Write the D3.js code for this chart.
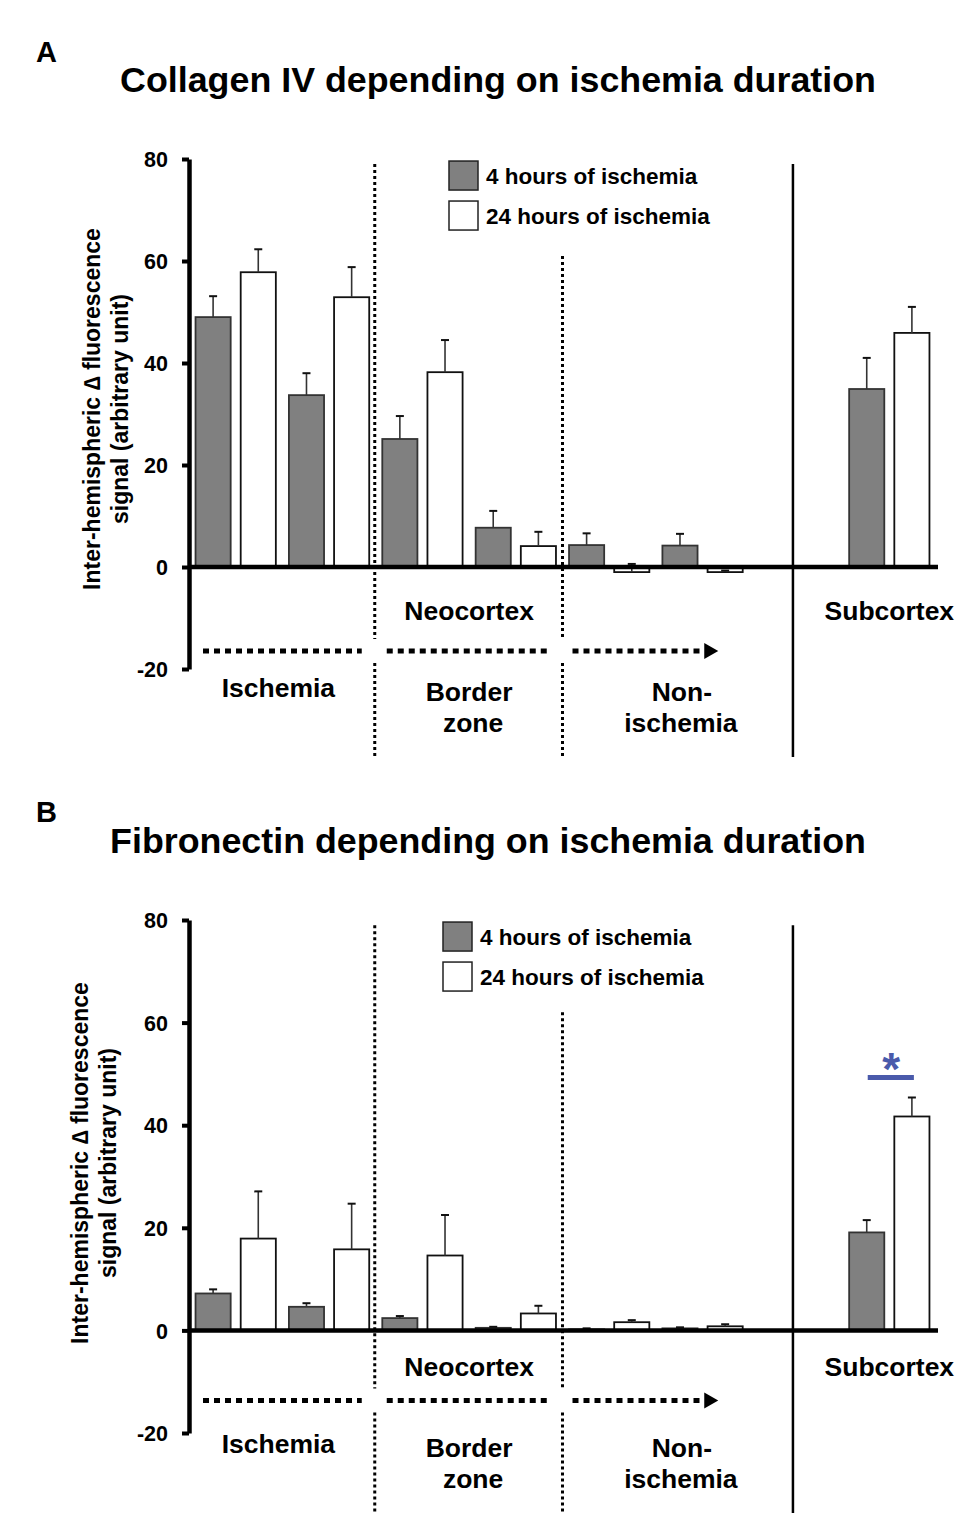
<!DOCTYPE html>
<html>
<head>
<meta charset="utf-8">
<script src="https://cdn.jsdelivr.net/npm/d3@7"></script>
<style>
  body { margin: 0; background: #fff; }
  svg text { font-family: "Liberation Sans", Arial, sans-serif; font-weight: bold; fill: #000; }
</style>
</head>
<body>
<svg id="figura" width="975" height="1533"></svg>
<script>
// categorias (8 posições: 6 do neocórtex, uma vazia, subcórtex)
const categorias = ['Ischemia 1', 'Ischemia 2', 'Border zone 1', 'Border zone 2',
                    'Non-ischemia 1', 'Non-ischemia 2', 'vazio', 'Subcortex']
const series = ['4 hours of ischemia', '24 hours of ischemia']
const ticksY = [-20, 0, 20, 40, 60, 80]

// A - Collagen IV (média e erro padrão)
const colageno4h    = [49.0, 33.7, 25.1, 7.7, 4.3, 4.2, null, 34.9]
const colageno4hErr = [4.1, 4.3, 4.5, 3.3, 2.3, 2.3, null, 6.1]
const colageno24h    = [57.8, 52.9, 38.2, 4.1, -1.0, -1.0, null, 45.9]
const colageno24hErr = [4.5, 5.9, 6.3, 2.8, 1.6, 0.3, null, 5.1]

// B - Fibronectin
const fibronectina4h    = [7.2, 4.6, 2.4, 0.5, 0.2, 0.4, null, 19.1]
const fibronectina4hErr = [0.8, 0.7, 0.4, 0.2, 0.2, 0.2, null, 2.4]
const fibronectina24h    = [17.9, 15.8, 14.6, 3.3, 1.6, 0.8, null, 41.7]
const fibronectina24hErr = [9.2, 8.9, 7.9, 1.5, 0.4, 0.4, null, 3.7]

onload = () => {
  new Painel({
    letra: 'A', titulo: 'Collagen IV depending on ischemia duration', tituloX: 498, tituloY: 92,
    letraY: 62, yTopo: 159, yBase: 669, rotuloY: 100, rotuloCentro: 409, legendaX: 449,
    v4: colageno4h, e4: colageno4hErr, v24: colageno24h, e24: colageno24hErr,
    linhaTopo2: 61, fundo: 757,
    off: {neo: 53, seta: 84, isq: 130, borda: 134, zona: 165}
  })
  new Painel({
    letra: 'B', titulo: 'Fibronectin depending on ischemia duration', tituloX: 488, tituloY: 853,
    letraY: 822, yTopo: 920, yBase: 1433, rotuloY: 88, rotuloCentro: 1163, legendaX: 443,
    v4: fibronectina4h, e4: fibronectina4hErr, v24: fibronectina24h, e24: fibronectina24hErr,
    linhaTopo2: 62, fundo: 1513,
    off: {neo: 46, seta: 70, isq: 123, borda: 127, zona: 158},
    signif: 'Subcortex'
  })
}

function Painel(p) {
  let svg = d3.select('#figura')
  let g = svg.append('g')

  this.fnX = d3.scaleBand().domain(categorias).range([189, 936]).paddingInner(0.14).paddingOuter(0.07)
  this.fnX1 = d3.scaleBand().domain(series).range([0, this.fnX.bandwidth()]).paddingInner(0.222)
  this.fnY = d3.scaleLinear().domain([-20, 80]).range([p.yBase, p.yTopo])
  let fnX = this.fnX, fnX1 = this.fnX1, fnY = this.fnY
  let passo = fnX.step()
  let limite = i => fnX(categorias[i]) - fnX.paddingInner() * passo / 2
  let y0 = fnY(0)

  // títulos
  svg.append('text').attr('x', 36).attr('y', p.letraY).style('font-size', '29px').text(p.letra)
  svg.append('text').attr('x', p.tituloX).attr('y', p.tituloY).attr('text-anchor', 'middle')
    .style('font-size', '35.8px').text(p.titulo)

  // rótulo do eixo Y
  let rot = svg.append('g').attr('transform', 'translate(' + p.rotuloY + ',' + p.rotuloCentro + ') rotate(-90)')
  rot.append('text').attr('text-anchor', 'middle').style('font-size', '23px').text('Inter-hemispheric \u2206 fluorescence')
  rot.append('text').attr('y', 28).attr('text-anchor', 'middle').style('font-size', '23px').text('signal (arbitrary unit)')

  // barras
  let dados = categorias.map((c, i) => ({
    cat: c,
    valores: [{s: series[0], v: p.v4[i], e: p.e4[i]}, {s: series[1], v: p.v24[i], e: p.e24[i]}]
  })).filter(d => d.valores[0].v !== null)

  let grupos = g.selectAll('.grupo').data(dados).enter().append('g')
    .attr('transform', d => 'translate(' + fnX(d.cat) + ',0)')

  grupos.selectAll('.barra').data(d => d.valores).enter().append('rect')
    .attr('x', d => fnX1(d.s))
    .attr('y', d => fnY(Math.max(d.v, 0)))
    .attr('width', fnX1.bandwidth())
    .attr('height', d => Math.abs(fnY(d.v) - y0))
    .attr('fill', d => d.s === series[0] ? '#808080' : '#fff')
    .attr('stroke', d => d.s === series[0] ? '#333' : '#111')
    .attr('stroke-width', 1.8)

  // barras de erro
  let erros = grupos.selectAll('.erro').data(d => d.valores).enter().append('g')
  erros.append('line')
    .attr('x1', d => fnX1(d.s) + fnX1.bandwidth() / 2).attr('x2', d => fnX1(d.s) + fnX1.bandwidth() / 2)
    .attr('y1', d => fnY(d.v)).attr('y2', d => fnY(d.v + d.e))
    .attr('stroke', '#333').attr('stroke-width', 1.6)
  erros.append('line')
    .attr('x1', d => fnX1(d.s) + fnX1.bandwidth() / 2 - 4).attr('x2', d => fnX1(d.s) + fnX1.bandwidth() / 2 + 4)
    .attr('y1', d => fnY(d.v + d.e)).attr('y2', d => fnY(d.v + d.e))
    .attr('stroke', '#111').attr('stroke-width', 2)

  // eixo Y
  let eixoY = d3.axisLeft(fnY).tickValues(ticksY).tickSize(7).tickSizeOuter(0).tickPadding(14)
    .tickFormat(d => String(d))
  let gy = g.append('g').attr('transform', 'translate(' + fnX.range()[0] + ',0)').call(eixoY)
  gy.select('.domain').attr('stroke', '#000').attr('stroke-width', 4.5)
  gy.selectAll('.tick line').attr('stroke', '#000').attr('stroke-width', 4)
  gy.selectAll('.tick text').style('font-size', '21.5px').attr('dy', '0.36em')

  // linha do zero
  g.append('line').attr('x1', fnX.range()[0]).attr('x2', fnX.range()[1] + 2)
    .attr('y1', y0).attr('y2', y0).attr('stroke', '#000').attr('stroke-width', 4.5)

  // divisões verticais
  let ySeta = y0 + p.off.seta
  let pontilhado = (x, yIni) => {
    [[yIni, ySeta - 12], [ySeta + 12, p.fundo]].forEach(s => {
      g.append('line').attr('x1', x).attr('x2', x).attr('y1', s[0]).attr('y2', s[1])
        .attr('stroke', '#000').attr('stroke-width', 3).attr('stroke-dasharray', '3,3')
    })
  }
  pontilhado(limite(2) - 1, fnY(79))
  pontilhado(limite(4), fnY(p.linhaTopo2))
  let xSolida = fnX('vazio') + fnX.bandwidth() / 2 - 3
  g.append('line').attr('x1', xSolida).attr('x2', xSolida).attr('y1', fnY(79)).attr('y2', p.fundo)
    .attr('stroke', '#000').attr('stroke-width', 2.5)

  // seta pontilhada
  let trechos = [[limite(0) + 14, limite(2) - 14], [limite(2) + 11, limite(4) - 14], [limite(4) + 10, limite(6) - 45]]
  trechos.forEach(t => {
    g.append('line').attr('x1', t[0]).attr('x2', t[1]).attr('y1', ySeta).attr('y2', ySeta)
      .attr('stroke', '#000').attr('stroke-width', 5).attr('stroke-dasharray', '6,5')
  })
  let ponta = limite(6) - 45
  g.append('path').attr('d', 'M' + ponta + ',' + (ySeta - 8) + 'L' + (ponta + 14) + ',' + ySeta + 'L' + ponta + ',' + (ySeta + 8) + 'Z')
    .attr('fill', '#000')

  // rótulos das regiões
  let texto = (x, y, t) => g.append('text').attr('x', x).attr('y', y).attr('text-anchor', 'middle')
    .style('font-size', '26.5px').text(t)
  texto(limite(3), y0 + p.off.neo, 'Neocortex')
  texto(fnX('Subcortex') + fnX.bandwidth() / 2, y0 + p.off.neo, 'Subcortex')
  texto(limite(1) - 4, y0 + p.off.isq, 'Ischemia')
  texto(limite(3), y0 + p.off.borda, 'Border')
  texto(limite(3) + 4, y0 + p.off.zona, 'zone')
  texto(limite(5) + 26, y0 + p.off.borda, 'Non-')
  texto(limite(5) + 25, y0 + p.off.zona, 'ischemia')

  // legenda
  let leg = g.selectAll('.legenda').data(series).enter().append('g')
    .attr('transform', (d, i) => 'translate(' + p.legendaX + ',' + (fnY(79.6) + i * 40) + ')')
  leg.append('rect').attr('width', 29).attr('height', 29)
    .attr('fill', d => d === series[0] ? '#808080' : '#fff').attr('stroke', '#222').attr('stroke-width', 1.5)
  leg.append('text').attr('x', 37).attr('y', 23).style('font-size', '22.5px').text(d => d)

  // significância
  if (p.signif) {
    let xa = fnX(p.signif) + fnX1(series[0]) + fnX1.bandwidth() / 2
    let xb = fnX(p.signif) + fnX1(series[1]) + fnX1.bandwidth() / 2
    let ys = fnY(p.v24[7] + p.e24[7]) - 20
    g.append('line').attr('x1', xa + 1).attr('x2', xb + 2).attr('y1', ys).attr('y2', ys)
      .attr('stroke', '#4a5aab').attr('stroke-width', 5)
    g.append('text').attr('x', (xa + xb) / 2 + 2).attr('y', ys + 8).attr('text-anchor', 'middle')
      .style('font-size', '46px').style('fill', '#4a5aab').text('*')
  }
}
</script>
</body>
</html>
